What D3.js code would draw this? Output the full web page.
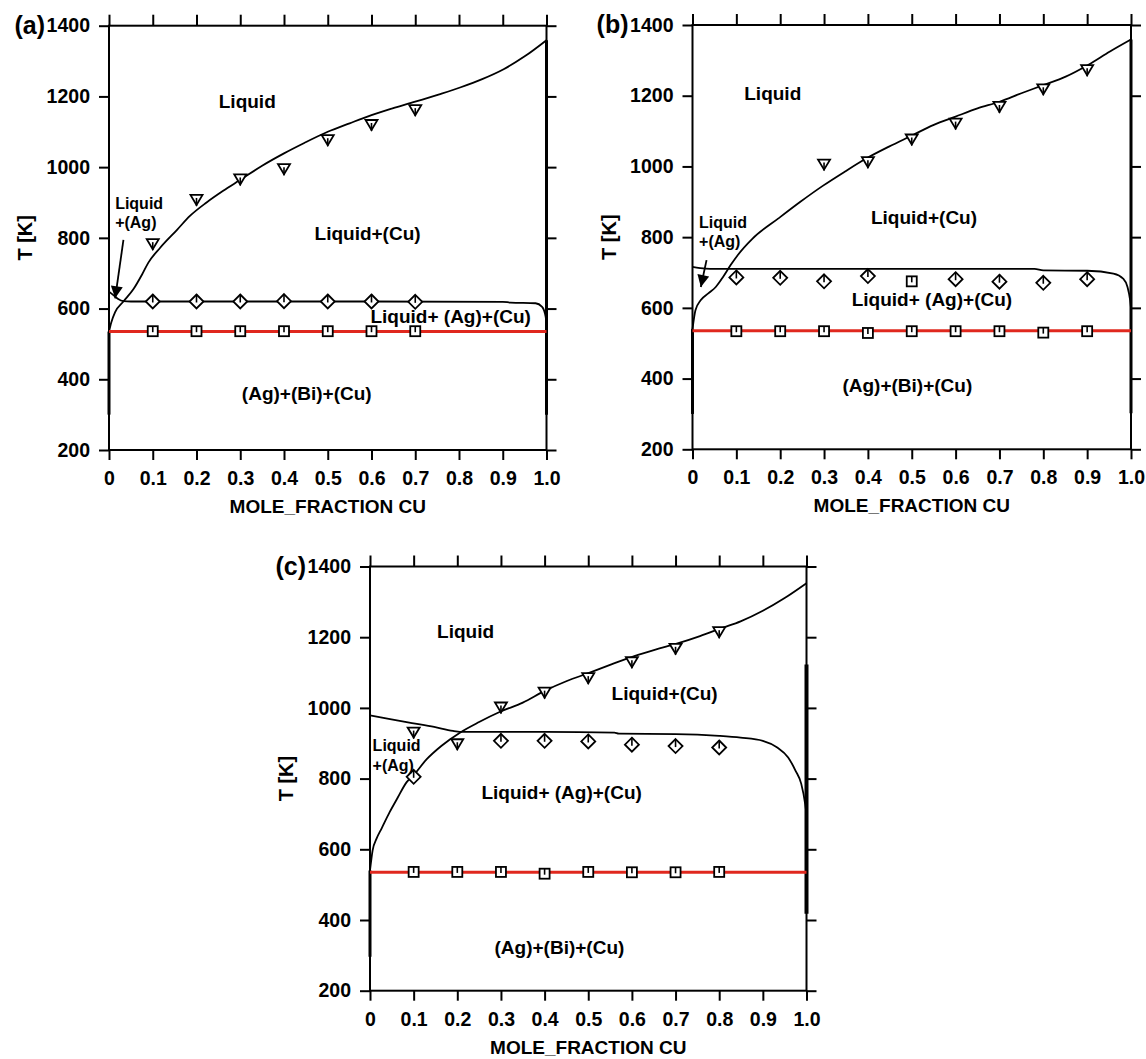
<!DOCTYPE html>
<html>
<head>
<meta charset="utf-8">
<script src="https://cdn.jsdelivr.net/npm/d3@7"></script>
<style>
body { margin: 0; background: #fff; }
text { font-family: "Liberation Sans", Arial, Helvetica, sans-serif; font-weight: bold; fill: #000; }
</style>
</head>
<body>
<script>
// ---- data (x = mole fraction Cu, T in K) ----
var xTicks = [0, 0.1, 0.2, 0.3, 0.4, 0.5, 0.6, 0.7, 0.8, 0.9, 1.0];
var tTicks = [200, 400, 600, 800, 1000, 1200, 1400];
var eutecticT = 535;

// panel (a)
var liquidusA = [[0,535],[0.005,560],[0.014,590],[0.033,620],[0.056,655],[0.075,695],[0.09,730],[0.117,772],[0.155,822],[0.185,862],[0.223,900],[0.261,933],[0.3,964],[0.35,1004],[0.4,1039],[0.444,1067],[0.5,1100],[0.55,1124],[0.6,1147],[0.648,1166],[0.7,1185],[0.755,1206],[0.804,1226],[0.853,1249],[0.902,1277],[0.951,1314],[1.0,1359]];
var threePhaseA = [[0,648],[0.01,638],[0.02,628],[0.033,621],[0.05,620],[0.3,620],[0.6,620],[0.9,619],[0.918,617],[0.975,615],[0.99,605],[0.998,577],[1.0,553]];
var triA_x = [0.1, 0.2, 0.3, 0.4, 0.5, 0.6, 0.7];
var triA_T = [785, 910, 968, 997, 1079, 1122, 1164];
var diaA_x = [0.1, 0.2, 0.3, 0.4, 0.5, 0.6, 0.7];
var diaA_T = [620, 620, 620, 621, 620, 620, 619];
var sqA_x = [0.1, 0.2, 0.3, 0.4, 0.5, 0.6, 0.7];
var sqA_T = [536, 536, 536, 536, 536, 536, 536];

// panel (b)
var liquidusB = [[0,540],[0.0067,593],[0.019,622],[0.036,641],[0.053,659],[0.07,688],[0.087,721],[0.103,749],[0.137,796],[0.196,853],[0.246,900],[0.297,945],[0.347,985],[0.397,1023],[0.448,1056],[0.503,1089],[0.549,1117],[0.6,1141],[0.65,1164],[0.7,1183],[0.75,1207],[0.8,1230],[0.851,1254],[0.902,1287],[0.952,1325],[1.0,1359]];
var threePhaseB = [[0,716],[0.03,711],[0.05,710],[0.4,710],[0.78,710],[0.8,706],[0.9,705],[0.96,697],[0.982,683],[0.992,659],[0.998,622],[1.0,600]];
var triB_x = [0.3, 0.4, 0.5, 0.6, 0.7, 0.8, 0.9];
var triB_T = [1008, 1015, 1079, 1124, 1171, 1221, 1275];
var diaB_x = [0.1, 0.2, 0.3, 0.4, 0.6, 0.7, 0.8, 0.9];
var diaB_T = [686, 685, 675, 690, 681, 674, 671, 681];
var sqB_x = [0.1, 0.2, 0.3, 0.4, 0.5, 0.5, 0.6, 0.7, 0.8, 0.9];
var sqB_T = [534, 534, 534, 529, 675, 534, 534, 534, 530, 534];

// panel (c)
var liquidusC = [[0,540],[0.006,597],[0.015,630],[0.027,660],[0.045,705],[0.063,745],[0.084,790],[0.1,810],[0.13,855],[0.164,893],[0.206,930],[0.25,960],[0.298,989],[0.35,1015],[0.4,1048],[0.451,1076],[0.502,1099],[0.553,1123],[0.604,1146],[0.654,1165],[0.701,1181],[0.756,1203],[0.806,1226],[0.849,1245],[0.9,1275],[0.95,1311],[1.0,1353]];
var threePhaseC = [[0,979],[0.046,968],[0.096,957],[0.147,946],[0.19,935],[0.215,932],[0.4,932],[0.56,930],[0.57,927],[0.7,926],[0.8,921],[0.849,916],[0.9,907],[0.933,888],[0.958,860],[0.975,822],[0.988,785],[0.997,728],[1.0,700]];
var triC_x = [0.1, 0.2, 0.3, 0.4, 0.5, 0.6, 0.7, 0.8];
var triC_T = [933, 900, 1004, 1046, 1087, 1132, 1170, 1217];
var diaC_x = [0.1, 0.3, 0.4, 0.5, 0.6, 0.7, 0.8];
var diaC_T = [805, 907, 907, 905, 896, 892, 888];
var sqC_x = [0.1, 0.2, 0.3, 0.4, 0.5, 0.6, 0.7, 0.8];
var sqC_T = [536, 536, 536, 531, 536, 535, 535, 536];

// region labels: [text, x, T]
var labelsA = [["Liquid",0.316,1185],["Liquid+(Cu)",0.591,813],["Liquid+ (Ag)+(Cu)",0.781,577],["(Ag)+(Bi)+(Cu)",0.452,360]];
var labelsB = [["Liquid",0.183,1208],["Liquid+(Cu)",0.528,856],["Liquid+ (Ag)+(Cu)",0.546,624],["(Ag)+(Bi)+(Cu)",0.49,381]];
var labelsC = [["Liquid",0.219,1217],["Liquid+(Cu)",0.675,1040],["Liquid+ (Ag)+(Cu)",0.439,761],["(Ag)+(Bi)+(Cu)",0.434,324]];

var width = 1146, height = 1059;
var svg = d3.select("body").append("svg")
	.attr("width", width)
	.attr("height", height);

svg.append("defs").append("marker")
	.attr("id", "arrow")
	.attr("viewBox", "0 0 10 10")
	.attr("refX", 10).attr("refY", 5)
	.attr("markerWidth", 14).attr("markerHeight", 12)
	.attr("markerUnits", "userSpaceOnUse")
	.attr("orient", "auto")
	.append("path").attr("d", "M0,0L10,5L0,10z").attr("fill", "#000");

function drawPanel(p) {
	var x = d3.scaleLinear().domain([0, 1]).range([p.x0, p.x1]);
	var y = d3.scaleLinear().domain([200, 1400]).range([p.yb, p.yt]);
	var g = svg.append("g");
	var fmt = function(d){ return d === 0 ? "0" : d3.format(".1f")(d); };

	// axes (ticks outward on all four sides)
	g.append("g").attr("transform", "translate(0," + p.yb + ")")
		.call(d3.axisBottom(x).tickValues(xTicks).tickFormat(fmt).tickSize(10).tickPadding(11));
	g.append("g").attr("transform", "translate(0," + p.yt + ")")
		.call(d3.axisTop(x).tickValues(xTicks).tickFormat("").tickSize(11));
	g.append("g").attr("transform", "translate(" + p.x0 + ",0)")
		.call(d3.axisLeft(y).tickValues(tTicks).tickFormat(d3.format("d")).tickSize(10).tickPadding(9));
	g.append("g").attr("transform", "translate(" + p.x1 + ",0)")
		.call(d3.axisRight(y).tickValues(tTicks).tickFormat("").tickSize(10));
	g.selectAll(".domain").remove();
	g.selectAll(".tick line").attr("stroke", "#000").attr("stroke-width", 2);
	g.selectAll(".tick text").attr("font-size", 19.5).attr("fill", "#000")
		.style("font-family", "'Liberation Sans', Arial, sans-serif").style("font-weight", "bold");

	g.append("rect")
		.attr("x", p.x0).attr("y", p.yt)
		.attr("width", p.x1 - p.x0).attr("height", p.yb - p.yt)
		.attr("fill", "none").attr("stroke", "#000").attr("stroke-width", 2);

	// phase boundaries lying on x=0 and x=1
	p.edges.forEach(function(e){
		g.append("line")
			.attr("x1", x(e[0])).attr("x2", x(e[0]))
			.attr("y1", y(e[1])).attr("y2", y(e[2]))
			.attr("stroke", "#000").attr("stroke-width", e[3]);
	});

	var line = d3.line().x(function(d){ return x(d[0]); }).y(function(d){ return y(d[1]); }).curve(d3.curveMonotoneX);
	g.append("path").datum(p.liquidus).attr("d", line)
		.attr("fill", "none").attr("stroke", "#000").attr("stroke-width", 1.8);
	g.append("path").datum(p.threePhase).attr("d", line)
		.attr("fill", "none").attr("stroke", "#000").attr("stroke-width", 1.8);

	// eutectic line
	g.append("line")
		.attr("x1", x(0)).attr("x2", x(1))
		.attr("y1", y(eutecticT)).attr("y2", y(eutecticT))
		.attr("stroke", "#e0281e").attr("stroke-width", 3);

	// markers
	var tri = g.selectAll(".tri").data(p.triX).enter().append("g")
		.attr("transform", function(d, i){ return "translate(" + x(d) + "," + y(p.triT[i]) + ")"; });
	tri.append("path").attr("d", "M-6,-4L6,-4L0,6Z")
		.attr("fill", "#fff").attr("stroke", "#000").attr("stroke-width", 1.8);
	tri.append("line").attr("x1", 0).attr("x2", 0).attr("y1", -1).attr("y2", 7)
		.attr("stroke", "#000").attr("stroke-width", 1.6);

	var dia = g.selectAll(".dia").data(p.diaX).enter().append("g")
		.attr("transform", function(d, i){ return "translate(" + x(d) + "," + y(p.diaT[i]) + ")"; });
	dia.append("path").attr("d", "M0,-7L7,0L0,7L-7,0Z")
		.attr("fill", "#fff").attr("stroke", "#000").attr("stroke-width", 1.8);
	dia.append("line").attr("x1", 0).attr("x2", 0).attr("y1", -7).attr("y2", 1)
		.attr("stroke", "#000").attr("stroke-width", 1.6);

	var sq = g.selectAll(".sq").data(p.sqX).enter().append("g")
		.attr("transform", function(d, i){ return "translate(" + x(d) + "," + y(p.sqT[i]) + ")"; });
	sq.append("rect").attr("x", -5).attr("y", -5).attr("width", 10).attr("height", 10)
		.attr("fill", "#fff").attr("stroke", "#000").attr("stroke-width", 1.8);
	sq.append("line").attr("x1", 0).attr("x2", 0).attr("y1", -5).attr("y2", 1)
		.attr("stroke", "#000").attr("stroke-width", 1.6);

	// region labels
	p.labels.forEach(function(l){
		g.append("text")
			.attr("x", x(l[1])).attr("y", y(l[2]))
			.attr("dy", "0.35em")
			.attr("text-anchor", "middle")
			.attr("font-size", 19)
			.text(l[0]);
	});
	var small = g.append("text").attr("font-size", 16);
	small.append("tspan").attr("x", x(p.agLabel[0])).attr("y", y(p.agLabel[1])).attr("dy", "0.35em").text("Liquid");
	small.append("tspan").attr("x", x(p.agLabel[0])).attr("y", y(p.agLabel[2])).attr("dy", "0.35em").text("+(Ag)");

	if (p.arrow) {
		g.append("line")
			.attr("x1", x(p.arrow[0])).attr("y1", y(p.arrow[1]))
			.attr("x2", x(p.arrow[2])).attr("y2", y(p.arrow[3]))
			.attr("stroke", "#000").attr("stroke-width", 1.8)
			.attr("marker-end", "url(#arrow)");
	}

	// axis titles and panel letter
	g.append("text")
		.attr("x", (p.x0 + p.x1) / 2).attr("y", p.yb + 63)
		.attr("text-anchor", "middle").attr("font-size", 19)
		.text("MOLE_FRACTION CU");
	g.append("text")
		.attr("transform", "translate(" + (p.x0 - 84) + "," + ((p.yt + p.yb) / 2) + ") rotate(-90)")
		.attr("text-anchor", "middle").attr("dy", "0.35em").attr("font-size", 20)
		.text("T [K]");
	g.append("text")
		.attr("x", p.x0 - 64).attr("y", p.yt + 8)
		.attr("text-anchor", "end").attr("font-size", 25)
		.text(p.letter);
}

drawPanel({
	letter: "(a)", x0: 109, x1: 546.5, yt: 25.7, yb: 450,
	liquidus: liquidusA, threePhase: threePhaseA,
	triX: triA_x, triT: triA_T, diaX: diaA_x, diaT: diaA_T, sqX: sqA_x, sqT: sqA_T,
	labels: labelsA, agLabel: [0.014, 898, 843], arrow: [0.033, 794, 0.014, 629],
	edges: [[0, 535, 300, 3], [1, 1359, 300, 3]]
});
drawPanel({
	letter: "(b)", x0: 692.5, x1: 1131, yt: 25, yb: 449.3,
	liquidus: liquidusB, threePhase: threePhaseB,
	triX: triB_x, triT: triB_T, diaX: diaB_x, diaT: diaB_T, sqX: sqB_x, sqT: sqB_T,
	labels: labelsB, agLabel: [0.015, 843, 787], arrow: [0.032, 735, 0.019, 659],
	edges: [[0, 540, 300, 3], [1, 1359, 302, 3]]
});
drawPanel({
	letter: "(c)", x0: 370, x1: 806.5, yt: 566.5, yb: 990.7,
	liquidus: liquidusC, threePhase: threePhaseC,
	triX: triC_x, triT: triC_T, diaX: diaC_x, diaT: diaC_T, sqX: sqC_x, sqT: sqC_T,
	labels: labelsC, agLabel: [0.006, 895, 838], arrow: null,
	edges: [[0, 540, 296, 3], [1, 1123, 418, 4]]
});
</script>
</body>
</html>
